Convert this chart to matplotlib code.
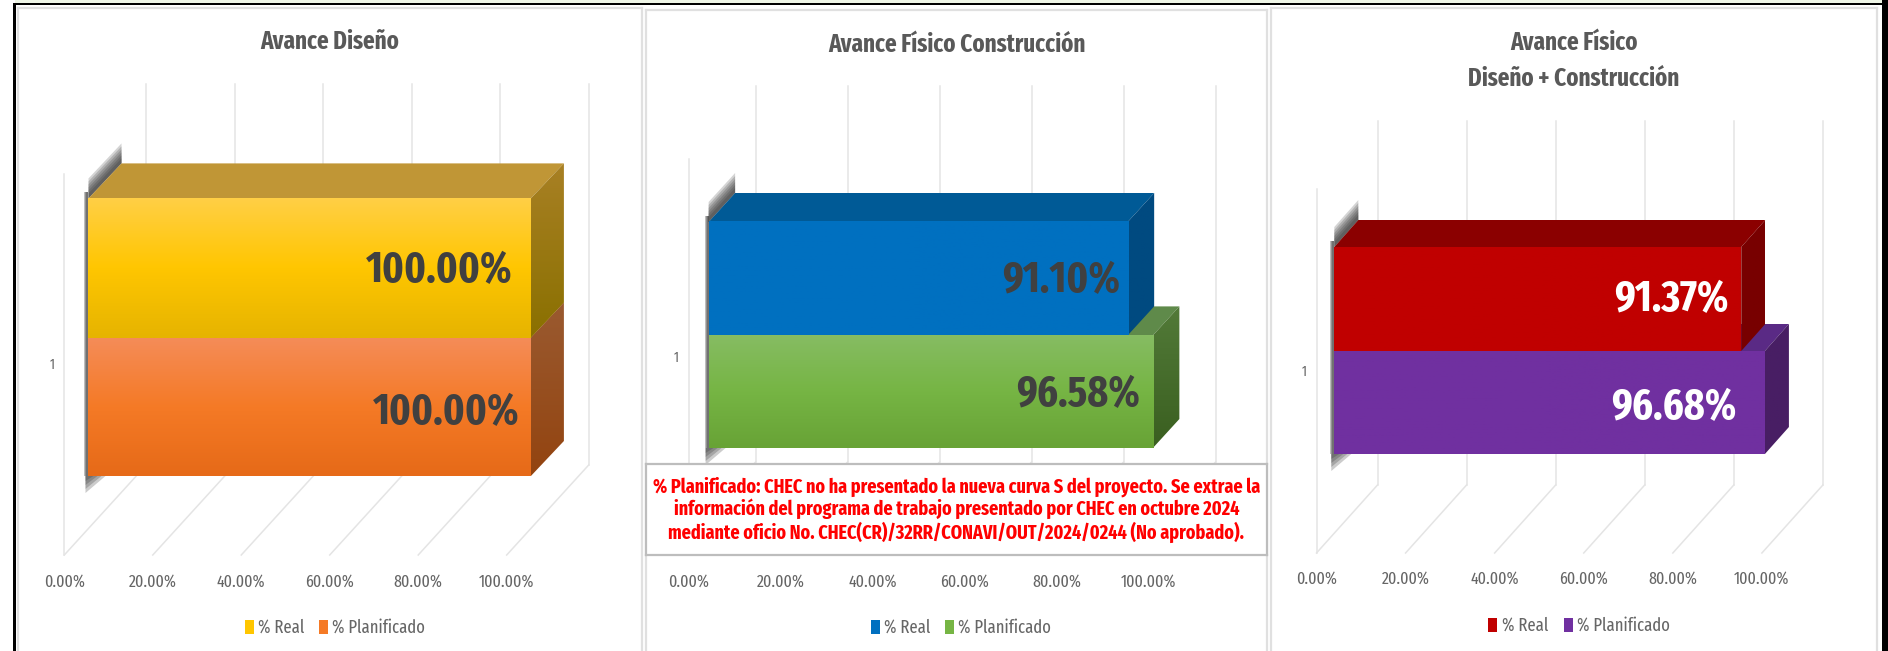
import numpy as np
import matplotlib
matplotlib.use("Agg")
import matplotlib.pyplot as plt
from matplotlib.colors import LinearSegmentedColormap
from matplotlib.patches import Polygon, Rectangle

plt.rcParams['font.family'] = ['Fira Sans Extra Condensed', 'Asap Condensed', 'Liberation Sans', 'DejaVu Sans']

W, H = 1888, 651

titles = ["Avance Diseño", "Avance Físico Construcción", "Avance Físico\nDiseño + Construcción"]
real_values = [100.00, 91.10, 91.37]
plan_values = [100.00, 96.58, 96.68]
ticks = [0, 20, 40, 60, 80, 100]
tick_labels = ["0.00%", "20.00%", "40.00%", "60.00%", "80.00%", "100.00%"]
legend_names = ["% Real", "% Planificado"]
note = ("% Planificado: CHEC no ha presentado la nueva curva S del proyecto. Se extrae la\n"
        "información del programa de trabajo presentado por CHEC en octubre 2024\n"
        "mediante oficio No. CHEC(CR)/32RR/CONAVI/OUT/2024/0244 (No aprobado).")

# geometry of each panel in reference pixels
panels = [
    dict(box=(18, 8, 642, 653), x0=64.3, k=4.424, wall=(173.5, 555), depth=(82, 90),
         bar_x=88.5, bar_y=(198.4, 337.5, 476), bar_d=(33, 35),
         title_y=(42,), tick_y=582, legend_y=627, legend_x=(245, 319),
         one=(52, 365), lab_dx=(18, 11), lab_y=(271, 413), lab_col="#404040",
         real=("#ffcf45", "#ffc600", "#e6b400", "#c09636", "#a88024", "#8a7000"),
         plan=("#f48c58", "#f57a26", "#e66a18", "#c09636", "#9a5a30", "#934410")),
    dict(box=(646, 10, 1267, 653), x0=688.6, k=4.6, wall=(159, 535), depth=(67, 73),
         bar_x=708.6, bar_y=(222, 335.4, 448), bar_d=(26.5, 29),
         title_y=(45,), tick_y=582, legend_y=627, legend_x=(870.6, 945),
         one=(676, 358), lab_dx=(8, 13), lab_y=(281, 395), lab_col="#404040",
         real=("#0070c0", "#0070c0", "#0070c0", "#005a96", "#004a80", "#004a80"),
         plan=("#86bc62", "#76b544", "#68a336", "#5f8a4a", "#527a38", "#3a5f20")),
    dict(box=(1271, 8, 1877, 653), x0=1316.5, k=4.454, wall=(189, 553), depth=(61, 68),
         bar_x=1334.3, bar_y=(247, 351, 454), bar_d=(24, 27),
         title_y=(43, 79), tick_y=579, legend_y=625, legend_x=(1488, 1563.6),
         one=(1304, 372), lab_dx=(13, 28), lab_y=(300, 408), lab_col="white",
         real=("#c00000", "#c00000", "#c00000", "#8b0000", "#780000", "#780000"),
         plan=("#7030a0", "#7030a0", "#7030a0", "#5a2a85", "#481e64", "#481e64")),
]


def gradient(ax, cols, extent, z):
    cmap = LinearSegmentedColormap.from_list("g", cols)
    return ax.imshow(np.linspace(0, 1, 64).reshape(-1, 1), cmap=cmap, extent=extent,
                     aspect="auto", zorder=z, origin="upper")


def draw_bar(ax, p, value, y0, y1, cols, z):
    dx, dy = p["bar_d"][0] / p["k"], p["bar_d"][1]
    x0 = (p["bar_x"] - p["x0"]) / p["k"]
    x1 = x0 + value
    ax.add_patch(Polygon([(x0, y0), (x0 + dx, y0 - dy), (x1 + dx, y0 - dy), (x1, y0)], fc=cols[3], ec="none", zorder=z))
    # side face, gradient clipped to the slanted shape
    side = Polygon([(x1, y0), (x1 + dx, y0 - dy), (x1 + dx, y1 - dy), (x1, y1)], fc="none", ec="none", zorder=z,
                   transform=ax.transData)
    ax.add_patch(side)
    im = gradient(ax, cols[4:6], (x1, x1 + dx, y1, y0 - dy), z)
    im.set_clip_path(side)
    gradient(ax, cols[:3], (x0, x1, y1, y0), z + 0.5)


def draw_shadow(ax, p):
    k = p["k"]
    x0 = (p["bar_x"] - p["x0"]) / k
    top, bot = p["bar_y"][0], p["bar_y"][2]
    dx, dy = p["bar_d"][0] / k, p["bar_d"][1]
    # blurred dark edge, built from stacked see-through shapes
    for h in [20, 17, 14, 11, 8, 5]:
        ax.add_patch(Polygon([(x0, top), (x0 + dx, top - dy), (x0 + dx, top - dy - h), (x0, top - h)],
                             fc="#2a2a2a", alpha=0.2, ec="none", zorder=3))
    for w in [4, 3, 2]:
        ax.add_patch(Rectangle((x0 - w / k, top - 6), w / k, bot - top + 6, fc="#2a2a2a", alpha=0.3, ec="none", zorder=3))
    for s in [17, 13, 9, 5]:
        ax.add_patch(Polygon([(x0 - 3 / k, bot), (x0 + s / k, bot), (x0 - 3 / k, bot + s)],
                             fc="#2a2a2a", alpha=0.24, ec="none", zorder=3))


fig = plt.figure(figsize=(W / 100, H / 100), dpi=100, facecolor="white")

for i, p in enumerate(panels):
    left, top, right, bottom = p["box"]
    ax = fig.add_axes([left / W, 1 - bottom / H, (right - left) / W, (bottom - top) / H])
    ax.set_xlim((left - p["x0"]) / p["k"], (right - p["x0"]) / p["k"])
    ax.set_ylim(bottom, top)
    ax.set_xticks([])
    ax.set_yticks([])
    for s in ax.spines.values():
        s.set_color("#e0e0e0")
        s.set_linewidth(1.6)

    # walls and floor
    wtop, wbot = p["wall"]
    dx, dy = p["depth"][0] / p["k"], p["depth"][1]
    for t, lab in zip(ticks, tick_labels):
        ax.plot([t + dx, t + dx], [wtop - dy, wbot - dy], color="#e4e4e4", lw=1.1, zorder=1)
        ax.plot([t, t + dx], [wbot, wbot - dy], color="#e4e4e4", lw=1.1, zorder=1)
        ax.text(t, p["tick_y"], lab, ha="center", va="center", fontsize=12.5, color="#666666")
    ax.plot([0, 0], [wtop, wbot], color="#e4e4e4", lw=1.1, zorder=1)
    ax.text((p["one"][0] - p["x0"]) / p["k"], p["one"][1], "1", ha="center", va="center", fontsize=10, color="#666666")

    # planned bar first, the real bar's side has to hide its top
    draw_shadow(ax, p)
    draw_bar(ax, p, plan_values[i], p["bar_y"][1], p["bar_y"][2], p["plan"], 4)
    draw_bar(ax, p, real_values[i], p["bar_y"][0], p["bar_y"][1], p["real"], 5)

    x0 = (p["bar_x"] - p["x0"]) / p["k"]
    ax.text(x0 + real_values[i] - p["lab_dx"][0] / p["k"], p["lab_y"][0], f"{real_values[i]:.2f}%", ha="right", va="center",
            fontsize=31, fontweight="bold", color=p["lab_col"], zorder=8)
    ax.text(x0 + plan_values[i] - p["lab_dx"][1] / p["k"], p["lab_y"][1], f"{plan_values[i]:.2f}%", ha="right", va="center",
            fontsize=31, fontweight="bold", color=p["lab_col"], zorder=8)

    # title
    cx = (left + right) / 2
    for line, ty in zip(titles[i].split("\n"), p["title_y"]):
        ax.text((cx - p["x0"]) / p["k"], ty, line, ha="center", va="center", fontsize=18, fontweight="bold", color="#595959")

    # legend
    for lx, name, cols in zip(p["legend_x"], legend_names, (p["real"], p["plan"])):
        ax.add_patch(Rectangle(((lx - p["x0"]) / p["k"], p["legend_y"] - 7), 9 / p["k"], 14, fc=cols[1], ec="none"))
        ax.text((lx + 13.5 - p["x0"]) / p["k"], p["legend_y"], name, ha="left", va="center", fontsize=13, color="#666666")

# note box over the middle panel
nax = fig.add_axes([646 / W, 1 - 555.4 / H, 621 / W, 91.7 / H])
nax.set_xticks([])
nax.set_yticks([])
nax.set_zorder(5)
for s in nax.spines.values():
    s.set_color("#bdbdbd")
    s.set_linewidth(1.6)
nax.text(0.5, 0.5, note, transform=nax.transAxes, ha="center", va="center", fontsize=14.2, fontweight="bold",
         color="#ff0000", linespacing=1.12)

# black frame of the pasted picture
frame = fig.add_axes([0, 0, 1, 1], facecolor="none")
frame.set_xlim(0, W)
frame.set_ylim(H, 0)
frame.axis("off")
frame.set_zorder(6)
frame.add_patch(Rectangle((15, 0), W - 15, 3, fc="#eef5e6", ec="none"))
frame.add_patch(Rectangle((13, 3), W - 13, 1.6, fc="black", ec="none"))
frame.add_patch(Rectangle((13, 3), 2.6, H - 3, fc="black", ec="none"))
frame.add_patch(Rectangle((1882, 0), 6, H, fc="black", ec="none"))

fig.savefig("out.png", dpi=100)
